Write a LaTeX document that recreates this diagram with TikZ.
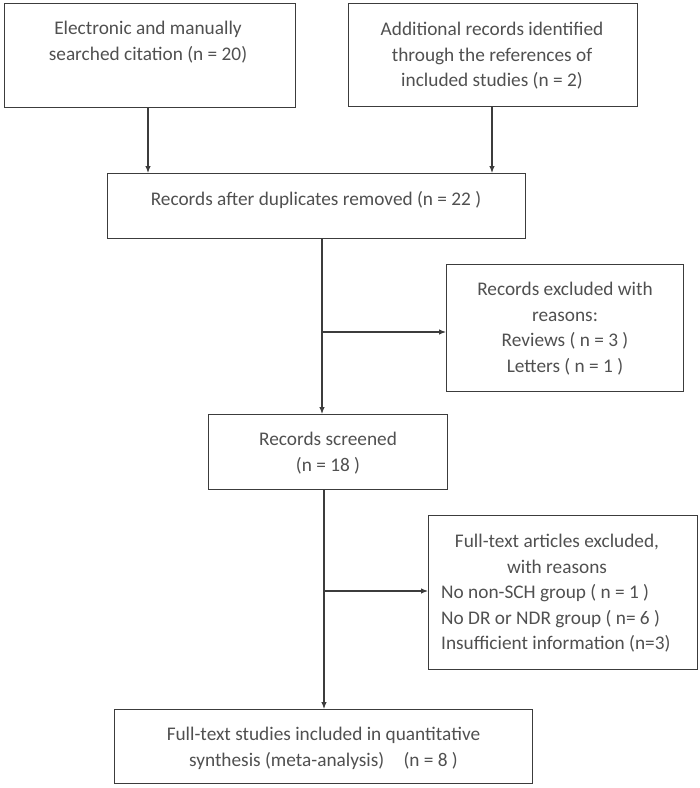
\documentclass[tikz,border=0pt]{standalone}
\usepackage{fontspec}
\setmainfont{Carlito}
\usetikzlibrary{arrows.meta}
\definecolor{txtc}{RGB}{80,80,80}
\definecolor{linec}{RGB}{60,60,60}
\tikzset{
  box/.style={draw=linec, line width=1.1pt, inner sep=0pt, anchor=north west},
  txt/.style={text=txtc, inner sep=0pt, anchor=north, align=center,
    font=\fontsize{19.3}{25.5}\selectfont},
  txtl/.style={txt, anchor=north west, align=left},
  conn/.style={draw=linec, line width=1.1pt},
  arr/.style={conn, -{Latex[length=7pt,width=5.5pt]}}
}
\begin{document}
\begin{tikzpicture}[x=1pt,y=-1pt]
\useasboundingbox (0,0) rectangle (700,788);
% boxes
\node[box, minimum width=291pt, minimum height=104pt] (b1) at (3.5,3) {};
\node[box, minimum width=289.5pt, minimum height=102.5pt] (b2) at (347.5,3) {};
\node[box, minimum width=418pt, minimum height=65pt] (b3) at (107,173) {};
\node[box, minimum width=237pt, minimum height=127pt] (b4) at (446,264) {};
\node[box, minimum width=239pt, minimum height=75pt] (b5) at (208,414) {};
\node[box, minimum width=269pt, minimum height=154pt] (b6) at (428,515) {};
\node[box, minimum width=418pt, minimum height=74pt] (b7) at (114,709) {};
% texts
\node[txt] (t1) at (148,16.6) {\strut Electronic and manually\\\strut searched citation (n = 20)};
\node[txt] (t2) at (492,17.6) {\strut Additional records identified\\\strut through the references of\\\strut included studies (n = 2)};
\node[txt] (t3) at (316,187.6) {\strut Records after duplicates removed (n = 22 )};
\node[txt] (t4) at (565,277.7) {\strut Records excluded with\\\strut reasons:\\\strut Reviews ( n = 3 )\\\strut Letters ( n = 1 )};
\node[txt] (t5) at (328,427.7) {\strut Records screened\\\strut (n = 18 )};
\node[txt] (t6a) at (557,529.7) {\strut Full-text articles excluded,\\\strut with reasons};
\node[txtl] (t6b) at (441,580.7) {\strut No non-SCH group ( n = 1 )\\\strut No DR or NDR group ( n= 6 )\\\strut Insufficient information (n=3)};
\node[txt] (t7) at (323.5,722.7) {\strut Full-text studies included in quantitative\\\strut synthesis (meta-analysis)\quad (n = 8 )};
% connectors
\coordinate (j1) at (323,332);
\coordinate (j2) at (324,591);
\draw[arr] (b1.south -| 148,0) -- (b3.north -| 148,0);
\draw[arr] (b2.south -| 492,0) -- (b3.north -| 492,0);
\draw[arr] (b3.south -| 322,0) -- (b5.north -| 322,0);
\draw[arr] (j1) -- (j1 -| b4.west);
\draw[arr] (b5.south -| 324,0) -- (b7.north -| 324,0);
\draw[arr] (j2) -- (j2 -| b6.west);
\end{tikzpicture}
\end{document}
